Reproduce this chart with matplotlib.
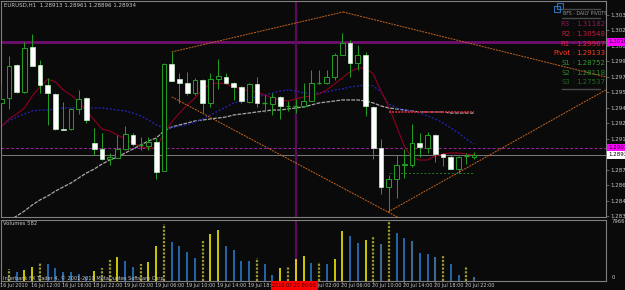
import numpy as np
import matplotlib.pyplot as plt
from matplotlib.transforms import blended_transform_factory
from matplotlib.patches import Rectangle

plt.rcParams['font.family'] = ['Liberation Sans Narrow', 'DejaVu Sans']

## EURUSD H1
opens = [1.29471, 1.29522, 1.29863, 1.29584, 1.30049, 1.29863, 1.29656, 1.29564, 1.29202, 1.29202,
         1.29409, 1.29522, 1.29058, 1.28996, 1.28893, 1.28903, 1.28996, 1.29140, 1.29037, 1.29027,
         1.29068, 1.28769, 1.29873, 1.29718, 1.29677, 1.29574, 1.29708, 1.29471, 1.29718, 1.29739,
         1.29677, 1.29636, 1.29481, 1.29667, 1.29465, 1.29460, 1.29533, 1.29440, 1.29440, 1.29440,
         1.29491, 1.29672, 1.29677, 1.29739, 1.29966, 1.30090, 1.29883, 1.29966, 1.29429, 1.29006,
         1.28604, 1.28686, 1.28831, 1.28831, 1.29058, 1.29006, 1.29140, 1.28944, 1.28913, 1.28789,
         1.28919, 1.28913]
highs = [1.29677, 1.29956, 1.29873, 1.30100, 1.30183, 1.29914, 1.29729, 1.29574, 1.29481, 1.29419,
         1.29605, 1.29533, 1.29213, 1.29161, 1.28955, 1.29140, 1.29233, 1.29161, 1.29120, 1.29120,
         1.29109, 1.29884, 1.29997, 1.29780, 1.29791, 1.29729, 1.29718, 1.29780, 1.29925, 1.29780,
         1.29687, 1.29646, 1.29677, 1.29739, 1.29553, 1.29574, 1.29543, 1.29491, 1.29512, 1.29677,
         1.29811, 1.29811, 1.29811, 1.29987, 1.30193, 1.30121, 1.30069, 1.29997, 1.29440, 1.29099,
         1.28728, 1.28934, 1.28996, 1.29254, 1.29161, 1.29171, 1.29151, 1.28955, 1.28934, 1.28924,
         1.28955, 1.28961]
lows = [1.29460, 1.29409, 1.29574, 1.29574, 1.29853, 1.29574, 1.29244, 1.29192, 1.29187, 1.29192,
        1.29357, 1.29264, 1.28934, 1.28882, 1.28831, 1.28903, 1.28986, 1.29027, 1.28986, 1.28986,
        1.28686, 1.28769, 1.29698, 1.29471, 1.29553, 1.29553, 1.29367, 1.29429, 1.29615, 1.29667,
        1.29502, 1.29471, 1.29471, 1.29429, 1.29378, 1.29347, 1.29306, 1.29388, 1.29367, 1.29429,
        1.29491, 1.29667, 1.29667, 1.29708, 1.29966, 1.29739, 1.29811, 1.29337, 1.28893, 1.28532,
        1.28346, 1.28490, 1.28697, 1.28810, 1.28913, 1.28955, 1.28862, 1.28820, 1.28789, 1.28748,
        1.28841, 1.28896]
closes = [1.29512, 1.29853, 1.29584, 1.30038, 1.29853, 1.29656, 1.29574, 1.29202, 1.29192, 1.29409,
          1.29512, 1.29295, 1.28996, 1.28893, 1.28913, 1.28996, 1.29151, 1.29048, 1.29032, 1.29068,
          1.28759, 1.29873, 1.29698, 1.29677, 1.29574, 1.29708, 1.29471, 1.29718, 1.29749, 1.29677,
          1.29636, 1.29491, 1.29667, 1.29471, 1.29471, 1.29533, 1.29440, 1.29443, 1.29437, 1.29491,
          1.29677, 1.29677, 1.29739, 1.29966, 1.30090, 1.29883, 1.29966, 1.29440, 1.29006, 1.28604,
          1.28686, 1.28831, 1.28841, 1.29058, 1.29017, 1.29140, 1.28944, 1.28913, 1.28789, 1.28913,
          1.28924, 1.28934]

## medias moveis
ma_red = [1.29223, 1.29306, 1.29357, 1.29419, 1.29543, 1.29636, 1.29718, 1.29687, 1.29605, 1.29553,
          1.29481, 1.29388, 1.29295, 1.29202, 1.29182, 1.29140, 1.29099, 1.29058, 1.29017, 1.29006,
          1.29006, 1.29161, 1.29275, 1.29367, 1.29450, 1.29522, 1.29615, 1.29667, 1.29677, 1.29667,
          1.29636, 1.29615, 1.29594, 1.29584, 1.29553, 1.29522, 1.29502, 1.29491, 1.29512, 1.29533,
          1.29543, 1.29564, 1.29605, 1.29667, 1.29729, 1.29791, 1.29832, 1.29832, 1.29770, 1.29594,
          1.29429, 1.29233, 1.29027, 1.28903, 1.28882, 1.28882, 1.28924, 1.28944, 1.28955, 1.28955,
          1.28944, 1.28934]
ma_blue = [1.29233, 1.29285, 1.29326, 1.29357, 1.29388, 1.29398, 1.29398, 1.29409, 1.29419, 1.29419,
           1.29419, 1.29419, 1.29419, 1.29419, 1.29409, 1.29398, 1.29388, 1.29367, 1.29337, 1.29295,
           1.29244, 1.29213, 1.29213, 1.29233, 1.29244, 1.29275, 1.29306, 1.29347, 1.29388, 1.29429,
           1.29471, 1.29491, 1.29512, 1.29533, 1.29553, 1.29574, 1.29594, 1.29605, 1.29594, 1.29574,
           1.29574, 1.29574, 1.29584, 1.29605, 1.29615, 1.29636, 1.29646, 1.29656, 1.29646, 1.29584,
           1.29460, 1.29419, 1.29398, 1.29388, 1.29367, 1.29337, 1.29306, 1.29264, 1.29213, 1.29161,
           1.29099, 1.29048]
ma_grey = [1.28201, 1.28253, 1.28305, 1.28356, 1.28418, 1.28470, 1.28511, 1.28562, 1.28604, 1.28645,
           1.28697, 1.28748, 1.28789, 1.28841, 1.28882, 1.28913, 1.28955, 1.28996, 1.29037, 1.29079,
           1.29109, 1.29182, 1.29223, 1.29244, 1.29264, 1.29285, 1.29295, 1.29306, 1.29316, 1.29326,
           1.29347, 1.29357, 1.29367, 1.29378, 1.29388, 1.29398, 1.29398, 1.29409, 1.29419, 1.29429,
           1.29450, 1.29471, 1.29481, 1.29491, 1.29502, 1.29502, 1.29502, 1.29491, 1.29471, 1.29440,
           1.29419, 1.29409, 1.29398, 1.29388, 1.29378, 1.29378, 1.29378, 1.29378, 1.29367, 1.29367,
           1.29367, 1.29367]

## volumes e tipo de barra (Y amarelo, O oliva, B azul, S azul escuro)
volumes = [1220, 1560, 1090, 1430, 1880, 2420, 2240, 1640, 1160, 1090,
           880, 540, 1250, 1700, 2920, 3260, 2650, 1880, 2240, 2580,
           4690, 7680, 5300, 4690, 3880, 3030, 5440, 6320, 6940, 4760,
           4150, 2720, 2720, 3060, 2240, 750, 1770, 1970, 2860, 3330,
           2450, 2580, 2240, 2860, 6740, 6050, 5170, 5510, 5960, 5030,
           7966, 6400, 5850, 5370, 3810, 3670, 3260, 3540, 2240, 750,
           2040, 480]
vol_kind = ['B', 'O', 'B', 'Y', 'Y', 'O', 'B', 'B', 'B', 'B',
            'B', 'B', 'Y', 'O', 'O', 'Y', 'B', 'B', 'O', 'Y',
            'Y', 'O', 'B', 'B', 'B', 'B', 'O', 'Y', 'Y', 'B',
            'B', 'B', 'B', 'O', 'B', 'B', 'Y', 'O', 'Y', 'Y',
            'B', 'O', 'B', 'Y', 'Y', 'B', 'B', 'Y', 'O', 'S',
            'O', 'B', 'B', 'S', 'B', 'B', 'S', 'O', 'B', 'B',
            'O', 'S']

## eixo de tempo
tick_idx = [0, 4, 8, 12, 16, 20, 24, 28, 32, 36, 40, 44, 48, 52, 56, 60]
tick_txt = ['16 Jul 2010', '16 Jul 12:00', '16 Jul 16:00', '18 Jul 22:00', '19 Jul 02:00',
            '19 Jul 06:00', '19 Jul 10:00', '19 Jul 14:00', '19 Jul 18:00', '19 Jul 22:00',
            '20 Jul 02:00', '20 Jul 06:00', '20 Jul 10:00', '20 Jul 14:00', '20 Jul 18:00',
            '20 Jul 22:00']
price_ticks = [1.28300, 1.28460, 1.28620, 1.28780, 1.28940, 1.29100, 1.29260,
               1.29420, 1.29580, 1.29740, 1.29900, 1.30060, 1.30220, 1.30380]

## objetos (linhas de tendencia, niveis)
trend_a = ([22.0, 44.1], [1.29997, 1.30410])
trend_b = ([44.1, 78.0], [1.30410, 1.29739])
trend_c = ([22.0, 52.7], [1.29533, 1.28226])
trend_d = ([49.9, 78.0], [1.28346, 1.29605])
line_top = 1.30100
line_mid = 1.29010
bid = 1.28934
vline_bar = 38
pivot_names = ['R3', 'R2', 'R1', 'Pivot', 'S1', 'S2', 'S3']
pivot_vals = [1.31182, 1.30548, 1.29967, 1.29133, 1.28752, 1.28118, 1.27537]
pivot_cols = ['#8a1a55', '#d0183a', '#e8203a', '#ff3c1c', '#2f9a2f', '#2a8a2a', '#1e6a1e']
red_level = 1.29378

W, H = 625, 290
BG = '#0a0a0a'
GR = '#808080'
TXT = '#c8c8c8'
GREEN = '#22a022'

fig = plt.figure(figsize=(W / 100, H / 100), dpi=100, facecolor=BG)
ax = fig.add_axes([1 / W, 1 - 217 / H, 605 / W, 216 / H], facecolor=BG)
ax2 = fig.add_axes([1 / W, 1 - 281 / H, 605 / W, 61.5 / H], facecolor=BG, sharex=ax)

x = np.arange(len(opens))
bw = 0.62
for i in x:
    o, h, l, c = opens[i], highs[i], lows[i], closes[i]
    ax.vlines(i, l, h, color=GREEN, lw=0.7, zorder=3)
    if abs(c - o) < 0.00007:
        ax.hlines(c, i - bw / 2, i + bw / 2, color=GREEN, lw=1.0, zorder=4)
    elif c > o:
        ax.bar(i, c - o, bw, bottom=o, facecolor=BG, edgecolor=GREEN, lw=0.7, zorder=4)
    else:
        ax.bar(i, o - c, bw, bottom=c, facecolor='white', edgecolor='#c8f0c8', lw=0.5, zorder=4)

ax.plot(x, ma_grey, color='#a8a8a8', lw=0.9, ls=(0, (3, 1)), zorder=2)
ax.plot(x, ma_blue, color='#2424c8', lw=0.9, ls=(0, (1.5, 1.5)), zorder=2)
ax.plot(x, ma_red, color='#900020', lw=0.8, zorder=2)

for tx, ty in [trend_a, trend_b, trend_c, trend_d]:
    ax.plot(tx, ty, color='#c8641e', lw=0.7, ls=(0, (2, 1)), zorder=2)

ax.axhline(line_top, color='#6e0e6e', lw=2.0, zorder=1)
ax.axhline(line_mid, color='#a020a0', lw=0.7, ls=(0, (3, 2)), zorder=1)
ax.axhline(bid, color='#7a7a7a', lw=0.7, zorder=1)
ax.hlines(red_level, 50, 61, color='#c02838', lw=1.4, ls=(0, (1, 0.6)), zorder=2)
ax.hlines(pivot_vals[4], 50, 61, color='#2a7a2a', lw=0.7, ls=(0, (2, 2)), zorder=2)
ax.axvline(vline_bar, color='#5a0c5a', lw=1.6, zorder=1)
ax2.axvline(vline_bar, color='#5a0c5a', lw=1.6, zorder=1)

ax.set_xlim(-0.03, 78.03)
ax.set_ylim(1.28294, 1.30523)

# eixo de precos
ax.yaxis.tick_right()
ax.set_yticks(price_ticks)
ax.set_yticklabels(['%.5f' % p for p in price_ticks])
ax.tick_params(axis='y', colors=GR, labelcolor=TXT, labelsize=4.0, length=2, width=0.5, pad=1)
ax.tick_params(axis='x', bottom=False, labelbottom=False)
trans = blended_transform_factory(ax.transAxes, ax.transData)
for val, fc, tc in [(line_top, '#ff00ff', '#200020'), (line_mid, '#ff00ff', '#200020'), (bid, 'white', 'black')]:
    ax.text(1.004, val, '%.5f' % val, transform=trans, fontsize=4.0, color=tc, va='center', ha='left',
            bbox=dict(boxstyle='square,pad=0.2', fc=fc, ec='none'), clip_on=False, zorder=10)

for a in [ax, ax2]:
    for s in a.spines.values():
        s.set_color(GR)
        s.set_linewidth(0.8)

# volumes
vcol = {'Y': '#ffff00', 'O': '#9a9a2a', 'B': '#2a80d8', 'S': '#3e6890'}
for i in x:
    k = vol_kind[i]
    if k == 'O':
        ax2.vlines(i, 0, volumes[i], color=vcol[k], lw=1.6, ls=(0, (1, 0.7)))
    elif k == 'S':
        ax2.vlines(i, 0, volumes[i], color=vcol[k], lw=1.5)
    else:
        ax2.vlines(i, 0, volumes[i], color=vcol[k], lw=1.1)
ax2.set_ylim(-68, 8306)
ax2.set_yticks([])
ax2.set_xticks(tick_idx)
ax2.tick_params(axis='x', colors=GR, length=2, width=0.5, labelbottom=False)
tr2 = blended_transform_factory(ax2.transData, ax2.transAxes)
for i, t in zip(tick_idx, tick_txt):
    ax2.text(i - 0.1, -0.075, t, transform=tr2, fontsize=3.5, color=TXT, ha='left', va='center', clip_on=False)
ax2.text(vline_bar - 0.2, -0.075, '2010.07.20 00:00', transform=tr2, fontsize=3.5, color='#300000',
         ha='center', va='center', bbox=dict(boxstyle='square,pad=0.35', fc='#ff0000', ec='none'),
         clip_on=False, zorder=10)
ax2.text(1.01, 0.96, '7966', transform=ax2.transAxes, fontsize=3.8, color=TXT, va='center')
ax2.text(1.01, 0.05, '0', transform=ax2.transAxes, fontsize=3.8, color=TXT, va='center')
ax2.text(0.004, 0.93, 'Volumes 582', transform=ax2.transAxes, fontsize=3.8, color=TXT, va='center', zorder=10)
ax2.text(0.004, 0.05, 'Interbank FX Trader 4, \u00a9 2001-2010 MetaQuotes Software Corp.',
         transform=ax2.transAxes, fontsize=3.6, color=TXT, va='center', zorder=10)

# titulo
fig.text(4 / W, 1 - 5.5 / H, 'EURUSD,H1  1.28913 1.28961 1.28896 1.28934', fontsize=4.0,
         color=TXT, va='center')

# quadro de pivots
fig.patches.append(Rectangle((554 / W, 1 - 12 / H), 6 / W, 6 / H, transform=fig.transFigure,
                             fill=False, ec='#2a70b8', lw=0.8))
fig.patches.append(Rectangle((557 / W, 1 - 9 / H), 6 / W, 6 / H, transform=fig.transFigure,
                             fill=False, ec='#2a70b8', lw=0.8))
for yy in [8.5, 18.3, 88.5]:
    fig.add_artist(plt.Line2D([562 / W, 600 / W], [1 - yy / H, 1 - yy / H], color='#4a4a4a', lw=1.0))
fig.text(563 / W, 1 - 13.5 / H, 'BFS - DAILY PIVOTS', fontsize=3.3, color='#9a9a9a', va='center')
for k, (nm, v, col) in enumerate(zip(pivot_names, pivot_vals, pivot_cols)):
    yy = 24.3 + 9.67 * k
    fig.text(570 / W, 1 - yy / H, nm, fontsize=5, color=col, va='center', ha='right')
    fig.text(572.5 / W, 1 - yy / H, ':', fontsize=4, color=col, va='center', ha='left')
    fig.text(576.5 / W, 1 - yy / H, '%.5f' % v, fontsize=5, color=col, va='center', ha='left')

plt.savefig('out.png', dpi=100, facecolor=BG)
